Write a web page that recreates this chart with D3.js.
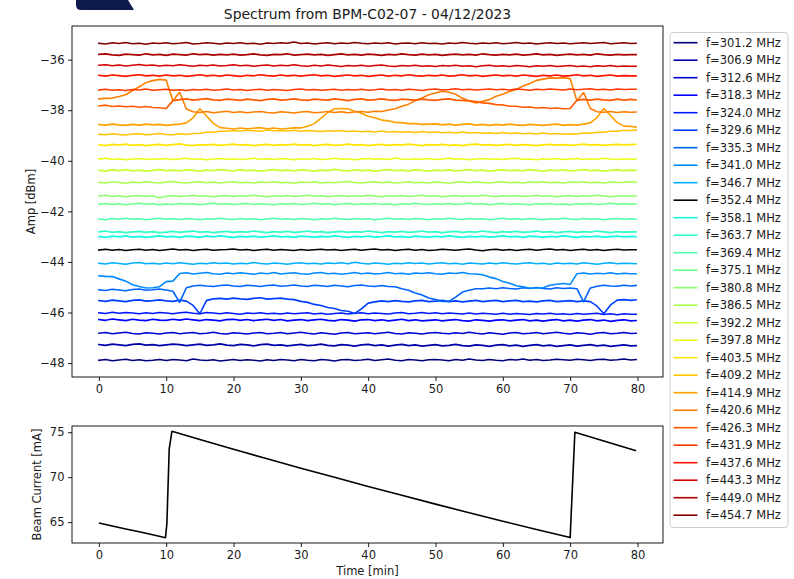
<!DOCTYPE html>
<html>
<head>
<meta charset="utf-8">
<script src="https://cdn.jsdelivr.net/npm/d3@7"></script>
<style>
  html, body { margin: 0; padding: 0; background: #fff; }
  svg { display: block; }
</style>
</head>
<body>
<svg id="chart" width="794" height="579"></svg>
<script>
// ---- time axis (minutes), shared by every spectrum trace ----
const minutes = [
  0,1,2,3,4,5,6,7,8,9,
  10,11,12,13,14,15,16,17,18,19,
  20,21,22,23,24,25,26,27,28,29,
  30,31,32,33,34,35,36,37,38,39,
  40,41,42,43,44,45,46,47,48,49,
  50,51,52,53,54,55,56,57,58,59,
  60,61,62,63,64,65,66,67,68,69,
  70,71,72,73,74,75,76,77,78,79,
  79.8
];

// ---- spectral line labels (MHz) ----
const frequencies = ["301.2","306.9","312.6","318.3","324.0","329.6","335.3","341.0","346.7","352.4",
  "358.1","363.7","369.4","375.1","380.8","386.5","392.2","397.8","403.5","409.2",
  "414.9","420.6","426.3","431.9","437.6","443.3","449.0","454.7"];

// ---- amplitude traces [dBm], one per spectral line ----
const amp301_2 = [-47.89,-47.86,-47.91,-47.88,-47.85,-47.90,-47.87,-47.91,-47.89,-47.86,
  -47.90,-47.86,-47.88,-47.91,-47.84,-47.88,-47.90,-47.87,-47.92,-47.89,
  -47.86,-47.90,-47.87,-47.89,-47.92,-47.87,-47.90,-47.86,-47.88,-47.91,
  -47.86,-47.89,-47.91,-47.86,-47.88,-47.92,-47.87,-47.86,-47.90,-47.88,
  -47.85,-47.90,-47.87,-47.84,-47.89,-47.91,-47.86,-47.88,-47.91,-47.87,
  -47.86,-47.88,-47.91,-47.86,-47.89,-47.84,-47.88,-47.90,-47.86,-47.89,
  -47.91,-47.86,-47.88,-47.84,-47.89,-47.86,-47.90,-47.88,-47.85,-47.87,
  -47.89,-47.85,-47.87,-47.90,-47.86,-47.85,-47.89,-47.87,-47.84,-47.88,
  -47.86];
const amp306_9 = [-47.27,-47.30,-47.25,-47.28,-47.31,-47.26,-47.24,-47.29,-47.27,-47.31,
  -47.28,-47.25,-47.27,-47.31,-47.28,-47.25,-47.30,-47.28,-47.24,-47.29,
  -47.31,-47.26,-47.28,-47.32,-47.27,-47.25,-47.30,-47.28,-47.32,-47.29,
  -47.26,-47.31,-47.29,-47.25,-47.30,-47.32,-47.27,-47.29,-47.33,-47.28,
  -47.26,-47.31,-47.28,-47.33,-47.29,-47.26,-47.31,-47.28,-47.33,-47.30,
  -47.27,-47.32,-47.30,-47.26,-47.31,-47.33,-47.28,-47.30,-47.34,-47.29,
  -47.27,-47.32,-47.29,-47.34,-47.30,-47.27,-47.32,-47.29,-47.34,-47.31,
  -47.28,-47.33,-47.30,-47.27,-47.32,-47.29,-47.34,-47.31,-47.28,-47.32,
  -47.31];
const amp312_6 = [-46.82,-46.79,-46.84,-46.81,-46.78,-46.83,-46.85,-46.80,-46.82,-46.85,
  -46.81,-46.79,-46.84,-46.81,-46.79,-46.84,-46.82,-46.78,-46.83,-46.85,
  -46.80,-46.82,-46.85,-46.81,-46.79,-46.84,-46.82,-46.79,-46.84,-46.81,
  -46.78,-46.82,-46.85,-46.80,-46.83,-46.86,-46.81,-46.79,-46.84,-46.82,
  -46.80,-46.84,-46.81,-46.78,-46.83,-46.85,-46.80,-46.82,-46.85,-46.81,
  -46.79,-46.82,-46.84,-46.80,-46.83,-46.78,-46.82,-46.85,-46.80,-46.83,
  -46.86,-46.81,-46.79,-46.84,-46.82,-46.79,-46.84,-46.81,-46.78,-46.82,
  -46.85,-46.80,-46.82,-46.86,-46.81,-46.79,-46.84,-46.82,-46.79,-46.83,
  -46.82];
const amp318_3 = [-46.28,-46.31,-46.26,-46.29,-46.32,-46.27,-46.30,-46.32,-46.27,-46.30,
  -46.31,-46.27,-46.30,-46.26,-46.29,-46.32,-46.28,-46.30,-46.33,-46.28,
  -46.27,-46.31,-46.28,-46.32,-46.29,-46.27,-46.31,-46.28,-46.33,-46.30,
  -46.28,-46.32,-46.29,-46.27,-46.31,-46.33,-46.28,-46.30,-46.34,-46.29,
  -46.28,-46.32,-46.29,-46.33,-46.30,-46.27,-46.32,-46.29,-46.33,-46.31,
  -46.29,-46.33,-46.30,-46.28,-46.32,-46.34,-46.29,-46.31,-46.34,-46.30,
  -46.29,-46.33,-46.30,-46.28,-46.33,-46.30,-46.34,-46.30,-46.28,-46.33,
  -46.30,-46.34,-46.30,-46.28,-46.33,-46.30,-46.35,-46.31,-46.29,-46.33,
  -46.32];
const amp324_0 = [-46.01,-46.04,-45.99,-46.03,-46.00,-46.02,-46.05,-46.01,-46.04,-46.00,
  -46.02,-46.05,-46.01,-45.99,-46.03,-46.05,-46.00,-46.02,-46.05,-46.01,
  -46.04,-46.07,-46.02,-46.04,-46.01,-46.05,-46.03,-46.06,-46.02,-46.05,
  -46.03,-46.01,-46.06,-46.03,-46.07,-46.04,-46.02,-46.06,-46.03,-46.01,
  -46.05,-46.02,-46.04,-46.06,-46.02,-46.00,-46.05,-46.03,-46.00,-46.04,
  -46.01,-46.05,-46.02,-46.04,-46.06,-46.02,-46.06,-46.03,-46.05,-46.07,
  -46.03,-46.07,-46.04,-46.06,-46.08,-46.04,-46.06,-46.03,-46.07,-46.05,
  -46.08,-46.04,-46.07,-46.05,-46.03,-46.08,-46.05,-46.09,-46.05,-46.07,
  -46.07];
const amp329_6 = [-45.53,-45.56,-45.51,-45.54,-45.57,-45.52,-45.50,-45.55,-45.53,-45.50,
  -45.54,-45.56,-45.51,-45.55,-45.72,-46.05,-45.52,-45.46,-45.44,-45.47,
  -45.43,-45.46,-45.48,-45.44,-45.42,-45.47,-45.45,-45.43,-45.47,-45.49,
  -45.56,-45.60,-45.68,-45.72,-45.80,-45.84,-45.92,-45.95,-46.04,-45.86,
  -45.63,-45.58,-45.54,-45.57,-45.53,-45.56,-45.58,-45.54,-45.52,-45.57,
  -45.55,-45.52,-45.57,-45.54,-45.58,-45.55,-45.52,-45.57,-45.54,-45.52,
  -45.57,-45.54,-45.52,-45.57,-45.55,-45.58,-45.54,-45.52,-45.57,-45.55,
  -45.53,-45.57,-45.54,-45.57,-45.75,-46.05,-45.70,-45.51,-45.49,-45.52,
  -45.50];
const amp335_3 = [-45.10,-45.13,-45.08,-45.11,-45.14,-45.09,-45.07,-45.12,-45.10,-45.07,
  -45.11,-45.16,-45.60,-45.02,-44.95,-44.92,-44.95,-44.97,-44.93,-44.91,
  -44.95,-44.97,-44.92,-44.94,-44.97,-44.93,-44.91,-44.96,-44.94,-44.91,
  -44.95,-44.97,-44.92,-44.94,-44.97,-44.92,-44.95,-44.98,-44.93,-44.91,
  -44.95,-44.97,-44.93,-44.97,-44.98,-45.06,-45.12,-45.23,-45.31,-45.43,
  -45.49,-45.56,-45.56,-45.39,-45.19,-45.12,-45.06,-45.06,-45.03,-45.06,
  -45.02,-45.05,-45.07,-45.02,-45.05,-45.01,-45.05,-45.07,-45.02,-45.05,
  -45.03,-45.06,-45.58,-45.03,-44.96,-44.92,-44.95,-44.96,-44.92,-44.95,
  -44.93];
const amp341_0 = [-44.55,-44.57,-44.58,-44.67,-44.76,-44.90,-44.97,-45.03,-45.02,-44.98,
  -44.78,-44.76,-44.46,-44.43,-44.48,-44.45,-44.42,-44.47,-44.49,-44.44,
  -44.47,-44.43,-44.46,-44.49,-44.44,-44.47,-44.42,-44.48,-44.45,-44.43,
  -44.47,-44.49,-44.44,-44.42,-44.47,-44.45,-44.49,-44.46,-44.42,-44.47,
  -44.44,-44.48,-44.46,-44.42,-44.47,-44.45,-44.49,-44.44,-44.46,-44.43,
  -44.47,-44.49,-44.44,-44.46,-44.42,-44.47,-44.48,-44.51,-44.60,-44.66,
  -44.77,-44.84,-44.94,-44.98,-45.04,-45.03,-45.02,-44.92,-44.88,-44.85,
  -44.89,-44.47,-44.44,-44.48,-44.45,-44.47,-44.43,-44.48,-44.45,-44.47,
  -44.47];
const amp346_7 = [-44.05,-44.08,-44.03,-44.06,-44.09,-44.04,-44.02,-44.07,-44.05,-44.08,
  -44.04,-44.07,-44.03,-44.06,-44.09,-44.05,-44.07,-44.03,-44.06,-44.04,
  -44.08,-44.05,-44.07,-44.02,-44.06,-44.08,-44.04,-44.06,-44.09,-44.05,
  -44.03,-44.07,-44.05,-44.08,-44.04,-44.06,-44.03,-44.07,-44.01,-44.05,
  -44.08,-44.04,-44.06,-44.09,-44.05,-44.07,-44.03,-44.06,-44.04,-44.08,
  -44.05,-44.03,-44.07,-44.05,-44.09,-44.04,-44.06,-44.08,-44.04,-44.07,
  -44.03,-44.06,-44.08,-44.05,-44.03,-44.07,-44.05,-44.09,-44.04,-44.07,
  -44.05,-44.08,-44.03,-44.06,-44.09,-44.05,-44.03,-44.07,-44.05,-44.06,
  -44.07];
const amp352_4 = [-43.53,-43.50,-43.54,-43.51,-43.55,-43.52,-43.50,-43.54,-43.51,-43.55,
  -43.52,-43.49,-43.53,-43.51,-43.55,-43.52,-43.50,-43.54,-43.52,-43.51,
  -43.49,-43.53,-43.51,-43.55,-43.52,-43.50,-43.54,-43.51,-43.53,-43.55,
  -43.51,-43.54,-43.52,-43.50,-43.53,-43.51,-43.55,-43.52,-43.50,-43.54,
  -43.51,-43.49,-43.53,-43.51,-43.55,-43.52,-43.50,-43.54,-43.51,-43.55,
  -43.53,-43.50,-43.52,-43.54,-43.51,-43.49,-43.53,-43.56,-43.52,-43.50,
  -43.54,-43.51,-43.55,-43.52,-43.50,-43.54,-43.51,-43.49,-43.53,-43.51,
  -43.55,-43.52,-43.50,-43.54,-43.51,-43.55,-43.52,-43.50,-43.53,-43.52,
  -43.52];
const amp358_1 = [-43.00,-43.03,-42.98,-43.01,-42.97,-43.02,-42.99,-43.03,-43.00,-42.97,
  -43.01,-42.99,-43.03,-42.98,-43.00,-43.02,-42.98,-43.01,-42.97,-43.00,
  -43.03,-42.99,-43.01,-42.98,-43.02,-43.00,-42.97,-43.01,-42.99,-43.03,
  -42.98,-43.00,-43.02,-42.99,-43.01,-42.97,-43.00,-43.03,-42.99,-43.01,
  -42.98,-43.02,-43.00,-42.97,-43.01,-42.99,-43.03,-42.98,-43.00,-43.02,
  -42.99,-43.01,-42.97,-43.00,-43.03,-42.99,-43.01,-42.98,-43.02,-43.00,
  -42.97,-43.01,-42.99,-43.03,-42.98,-43.00,-43.02,-42.99,-43.01,-42.97,
  -43.00,-43.03,-42.99,-43.01,-42.98,-43.02,-43.00,-42.98,-43.01,-42.99,
  -43.01];
const amp363_7 = [-42.81,-42.78,-42.83,-42.80,-42.84,-42.81,-42.79,-42.83,-42.80,-42.84,
  -42.82,-42.79,-42.83,-42.80,-42.78,-42.82,-42.80,-42.84,-42.81,-42.79,
  -42.83,-42.80,-42.82,-42.78,-42.81,-42.84,-42.80,-42.82,-42.79,-42.83,
  -42.81,-42.78,-42.82,-42.80,-42.84,-42.81,-42.79,-42.83,-42.80,-42.82,
  -42.78,-42.81,-42.84,-42.80,-42.82,-42.79,-42.83,-42.81,-42.78,-42.82,
  -42.80,-42.84,-42.81,-42.79,-42.83,-42.80,-42.82,-42.78,-42.81,-42.84,
  -42.80,-42.82,-42.79,-42.83,-42.81,-42.78,-42.82,-42.80,-42.84,-42.81,
  -42.79,-42.83,-42.80,-42.82,-42.78,-42.81,-42.84,-42.80,-42.82,-42.81,
  -42.81];
const amp369_4 = [-42.30,-42.33,-42.28,-42.31,-42.27,-42.31,-42.29,-42.33,-42.30,-42.27,
  -42.31,-42.29,-42.32,-42.28,-42.30,-42.33,-42.29,-42.31,-42.27,-42.30,
  -42.32,-42.28,-42.31,-42.29,-42.33,-42.30,-42.27,-42.31,-42.29,-42.32,
  -42.28,-42.30,-42.33,-42.29,-42.31,-42.27,-42.30,-42.32,-42.28,-42.31,
  -42.29,-42.33,-42.30,-42.27,-42.31,-42.29,-42.32,-42.28,-42.30,-42.33,
  -42.29,-42.31,-42.27,-42.30,-42.32,-42.28,-42.31,-42.29,-42.33,-42.30,
  -42.27,-42.31,-42.29,-42.32,-42.28,-42.30,-42.33,-42.29,-42.31,-42.27,
  -42.30,-42.32,-42.28,-42.31,-42.29,-42.33,-42.30,-42.28,-42.31,-42.29,
  -42.31];
const amp375_1 = [-41.72,-41.69,-41.73,-41.70,-41.74,-41.71,-41.68,-41.72,-41.70,-41.74,
  -41.71,-41.73,-41.69,-41.72,-41.70,-41.74,-41.71,-41.68,-41.72,-41.70,
  -41.73,-41.71,-41.69,-41.73,-41.70,-41.72,-41.74,-41.70,-41.72,-41.69,
  -41.73,-41.71,-41.68,-41.72,-41.70,-41.74,-41.71,-41.69,-41.73,-41.70,
  -41.72,-41.69,-41.73,-41.71,-41.74,-41.70,-41.72,-41.68,-41.71,-41.73,
  -41.70,-41.72,-41.69,-41.73,-41.71,-41.68,-41.72,-41.70,-41.74,-41.71,
  -41.69,-41.73,-41.70,-41.72,-41.74,-41.70,-41.72,-41.69,-41.73,-41.71,
  -41.74,-41.70,-41.72,-41.69,-41.73,-41.71,-41.68,-41.72,-41.70,-41.72,
  -41.71];
const amp380_8 = [-41.39,-41.36,-41.41,-41.38,-41.42,-41.39,-41.37,-41.41,-41.38,-41.46,
  -41.40,-41.37,-41.41,-41.39,-41.36,-41.40,-41.38,-41.42,-41.39,-41.37,
  -41.41,-41.38,-41.40,-41.36,-41.39,-41.42,-41.38,-41.40,-41.37,-41.41,
  -41.39,-41.36,-41.40,-41.38,-41.42,-41.39,-41.37,-41.41,-41.38,-41.40,
  -41.36,-41.39,-41.42,-41.38,-41.40,-41.37,-41.41,-41.39,-41.36,-41.40,
  -41.38,-41.42,-41.39,-41.37,-41.41,-41.38,-41.40,-41.36,-41.39,-41.42,
  -41.38,-41.40,-41.37,-41.41,-41.39,-41.36,-41.40,-41.38,-41.42,-41.39,
  -41.37,-41.41,-41.38,-41.40,-41.36,-41.39,-41.42,-41.38,-41.40,-41.39,
  -41.39];
const amp386_5 = [-40.85,-40.88,-40.83,-40.86,-40.89,-40.84,-40.87,-40.83,-40.86,-40.88,
  -40.84,-40.82,-40.86,-40.88,-40.85,-40.83,-40.87,-40.84,-40.88,-40.85,
  -40.83,-40.87,-40.85,-40.88,-40.84,-40.86,-40.83,-40.87,-40.85,-40.89,
  -40.84,-40.86,-40.83,-40.88,-40.85,-40.87,-40.84,-40.82,-40.86,-40.88,
  -40.85,-40.83,-40.87,-40.84,-40.88,-40.86,-40.83,-40.87,-40.85,-40.88,
  -40.84,-40.86,-40.89,-40.85,-40.83,-40.87,-40.84,-40.86,-40.88,-40.85,
  -40.83,-40.87,-40.85,-40.88,-40.84,-40.86,-40.83,-40.87,-40.85,-40.88,
  -40.84,-40.86,-40.83,-40.87,-40.85,-40.88,-40.84,-40.86,-40.85,-40.83,
  -40.85];
const amp392_2 = [-40.38,-40.41,-40.36,-40.39,-40.35,-40.40,-40.37,-40.41,-40.38,-40.35,
  -40.39,-40.37,-40.40,-40.36,-40.38,-40.41,-40.37,-40.39,-40.35,-40.38,
  -40.40,-40.36,-40.39,-40.37,-40.41,-40.38,-40.35,-40.39,-40.37,-40.40,
  -40.36,-40.38,-40.41,-40.37,-40.39,-40.34,-40.38,-40.40,-40.36,-40.39,
  -40.37,-40.41,-40.38,-40.35,-40.39,-40.37,-40.40,-40.36,-40.38,-40.41,
  -40.37,-40.39,-40.36,-40.40,-40.38,-40.35,-40.39,-40.37,-40.41,-40.38,
  -40.36,-40.39,-40.37,-40.40,-40.35,-40.38,-40.41,-40.37,-40.39,-40.36,
  -40.40,-40.38,-40.35,-40.39,-40.37,-40.41,-40.38,-40.36,-40.39,-40.37,
  -40.38];
const amp397_8 = [-39.93,-39.90,-39.95,-39.92,-39.96,-39.93,-39.91,-39.95,-39.92,-39.94,
  -39.91,-39.95,-39.93,-39.90,-39.94,-39.92,-39.96,-39.93,-39.91,-39.94,
  -39.92,-39.95,-39.93,-39.90,-39.94,-39.92,-39.95,-39.91,-39.93,-39.96,
  -39.92,-39.94,-39.91,-39.95,-39.93,-39.90,-39.94,-39.92,-39.96,-39.93,
  -39.91,-39.94,-39.92,-39.95,-39.89,-39.93,-39.95,-39.92,-39.94,-39.91,
  -39.95,-39.93,-39.90,-39.94,-39.92,-39.96,-39.93,-39.91,-39.94,-39.92,
  -39.95,-39.92,-39.90,-39.94,-39.93,-39.96,-39.92,-39.94,-39.91,-39.95,
  -39.93,-39.91,-39.95,-39.92,-39.94,-39.90,-39.93,-39.95,-39.92,-39.94,
  -39.93];
const amp403_5 = [-39.37,-39.40,-39.35,-39.38,-39.34,-39.39,-39.36,-39.40,-39.37,-39.35,
  -39.39,-39.36,-39.33,-39.38,-39.40,-39.36,-39.38,-39.35,-39.39,-39.37,
  -39.34,-39.38,-39.36,-39.40,-39.37,-39.35,-39.39,-39.36,-39.38,-39.34,
  -39.38,-39.36,-39.40,-39.37,-39.35,-39.39,-39.37,-39.34,-39.38,-39.36,
  -39.40,-39.37,-39.35,-39.39,-39.36,-39.38,-39.34,-39.37,-39.40,-39.36,
  -39.38,-39.35,-39.39,-39.37,-39.40,-39.36,-39.34,-39.38,-39.36,-39.39,
  -39.37,-39.35,-39.39,-39.36,-39.38,-39.40,-39.37,-39.35,-39.38,-39.36,
  -39.39,-39.37,-39.34,-39.38,-39.36,-39.39,-39.37,-39.35,-39.37,-39.36,
  -39.35];
const amp409_2 = [-38.95,-38.97,-38.93,-38.96,-38.98,-38.94,-38.93,-38.97,-38.95,-38.92,
  -38.96,-38.97,-38.93,-38.96,-38.92,-38.91,-38.87,-38.87,-38.83,-38.83,
  -38.80,-38.82,-38.79,-38.81,-38.83,-38.78,-38.81,-38.80,-38.82,-38.79,
  -38.83,-38.80,-38.82,-38.84,-38.81,-38.83,-38.80,-38.84,-38.82,-38.85,
  -38.83,-38.86,-38.82,-38.86,-38.84,-38.87,-38.85,-38.88,-38.84,-38.88,
  -38.86,-38.89,-38.87,-38.90,-38.86,-38.90,-38.88,-38.91,-38.89,-38.92,
  -38.88,-38.92,-38.90,-38.93,-38.91,-38.94,-38.90,-38.94,-38.92,-38.95,
  -38.93,-38.94,-38.90,-38.91,-38.87,-38.87,-38.83,-38.83,-38.79,-38.80,
  -38.78];
const amp414_9 = [-38.57,-38.59,-38.55,-38.58,-38.60,-38.56,-38.59,-38.55,-38.58,-38.56,
  -38.60,-38.57,-38.55,-38.50,-38.30,-37.94,-38.23,-38.52,-38.69,-38.71,
  -38.74,-38.70,-38.73,-38.71,-38.69,-38.73,-38.70,-38.74,-38.72,-38.70,
  -38.70,-38.63,-38.53,-38.31,-38.09,-37.94,-37.93,-37.94,-38.04,-38.12,
  -38.24,-38.30,-38.39,-38.42,-38.48,-38.49,-38.53,-38.53,-38.56,-38.55,
  -38.54,-38.58,-38.55,-38.59,-38.56,-38.54,-38.59,-38.56,-38.60,-38.56,
  -38.59,-38.55,-38.58,-38.60,-38.56,-38.58,-38.60,-38.57,-38.55,-38.60,
  -38.57,-38.59,-38.55,-38.50,-38.28,-37.93,-38.21,-38.49,-38.63,-38.64,
  -38.67];
const amp420_6 = [-37.55,-37.53,-37.52,-37.46,-37.39,-37.22,-37.07,-36.91,-36.83,-36.78,
  -36.81,-37.63,-37.29,-37.95,-38.06,-38.09,-38.05,-38.10,-38.07,-38.04,
  -38.09,-38.06,-38.10,-38.07,-38.05,-38.09,-38.11,-38.06,-38.08,-38.11,
  -38.07,-38.05,-38.10,-38.08,-38.05,-38.09,-38.06,-38.10,-38.07,-38.05,
  -38.08,-38.04,-38.05,-37.99,-37.94,-37.84,-37.76,-37.62,-37.52,-37.39,
  -37.32,-37.25,-37.29,-37.37,-37.53,-37.63,-37.71,-37.65,-37.58,-37.45,
  -37.37,-37.26,-37.18,-37.04,-36.94,-36.82,-36.77,-36.72,-36.73,-36.71,
  -36.75,-37.63,-37.30,-37.93,-38.06,-38.08,-38.05,-38.09,-38.06,-38.08,
  -38.07];
const amp426_3 = [-37.83,-37.80,-37.85,-37.83,-37.86,-37.84,-37.88,-37.85,-37.89,-37.90,
  -37.93,-37.62,-37.58,-37.55,-37.60,-37.57,-37.54,-37.59,-37.61,-37.56,
  -37.58,-37.61,-37.56,-37.59,-37.62,-37.57,-37.55,-37.60,-37.58,-37.55,
  -37.59,-37.61,-37.56,-37.58,-37.60,-37.55,-37.58,-37.62,-37.57,-37.55,
  -37.60,-37.58,-37.55,-37.59,-37.61,-37.56,-37.58,-37.60,-37.56,-37.59,
  -37.61,-37.57,-37.55,-37.60,-37.61,-37.63,-37.66,-37.71,-37.73,-37.78,
  -37.79,-37.84,-37.84,-37.88,-37.87,-37.91,-37.89,-37.93,-37.91,-37.94,
  -37.93,-37.61,-37.57,-37.60,-37.56,-37.59,-37.61,-37.56,-37.60,-37.57,
  -37.59];
const amp431_9 = [-37.20,-37.17,-37.21,-37.19,-37.22,-37.18,-37.20,-37.16,-37.21,-37.19,
  -37.17,-37.21,-37.19,-37.22,-37.18,-37.20,-37.17,-37.21,-37.19,-37.16,
  -37.20,-37.18,-37.22,-37.19,-37.17,-37.21,-37.18,-37.20,-37.22,-37.18,
  -37.16,-37.20,-37.18,-37.21,-37.19,-37.17,-37.21,-37.18,-37.20,-37.17,
  -37.21,-37.19,-37.16,-37.20,-37.18,-37.21,-37.17,-37.19,-37.22,-37.18,
  -37.16,-37.20,-37.18,-37.15,-37.19,-37.17,-37.20,-37.18,-37.16,-37.19,
  -37.17,-37.20,-37.16,-37.18,-37.21,-37.17,-37.19,-37.16,-37.18,-37.20,
  -37.16,-37.19,-37.17,-37.15,-37.19,-37.17,-37.20,-37.16,-37.18,-37.17,
  -37.17];
const amp437_6 = [-36.62,-36.65,-36.61,-36.63,-36.66,-36.62,-36.60,-36.64,-36.62,-36.65,
  -36.61,-36.64,-36.62,-36.66,-36.63,-36.60,-36.64,-36.62,-36.65,-36.61,
  -36.63,-36.66,-36.62,-36.64,-36.60,-36.63,-36.65,-36.61,-36.64,-36.62,
  -36.65,-36.62,-36.60,-36.64,-36.62,-36.66,-36.63,-36.61,-36.64,-36.62,
  -36.66,-36.63,-36.61,-36.65,-36.62,-36.64,-36.60,-36.63,-36.65,-36.62,
  -36.64,-36.61,-36.65,-36.63,-36.60,-36.64,-36.62,-36.66,-36.63,-36.61,
  -36.64,-36.62,-36.65,-36.61,-36.63,-36.66,-36.62,-36.64,-36.61,-36.65,
  -36.63,-36.60,-36.64,-36.62,-36.66,-36.63,-36.61,-36.65,-36.63,-36.64,
  -36.64];
const amp443_3 = [-36.22,-36.20,-36.24,-36.21,-36.25,-36.22,-36.19,-36.23,-36.21,-36.25,
  -36.22,-36.24,-36.20,-36.23,-36.26,-36.22,-36.24,-36.21,-36.25,-36.23,
  -36.20,-36.24,-36.22,-36.26,-36.23,-36.21,-36.25,-36.22,-36.24,-36.20,
  -36.24,-36.26,-36.22,-36.25,-36.21,-36.24,-36.27,-36.23,-36.25,-36.22,
  -36.26,-36.23,-36.21,-36.25,-36.27,-36.23,-36.25,-36.22,-36.26,-36.24,
  -36.27,-36.23,-36.25,-36.22,-36.26,-36.24,-36.28,-36.24,-36.22,-36.26,
  -36.24,-36.27,-36.23,-36.25,-36.28,-36.24,-36.26,-36.23,-36.27,-36.25,
  -36.23,-36.27,-36.25,-36.28,-36.24,-36.26,-36.23,-36.27,-36.25,-36.26,
  -36.26];
const amp449_0 = [-35.79,-35.77,-35.81,-35.83,-35.78,-35.80,-35.82,-35.77,-35.81,-35.79,
  -35.83,-35.78,-35.80,-35.82,-35.77,-35.80,-35.78,-35.82,-35.79,-35.81,
  -35.78,-35.82,-35.80,-35.77,-35.81,-35.83,-35.79,-35.80,-35.77,-35.82,
  -35.80,-35.78,-35.81,-35.79,-35.83,-35.80,-35.77,-35.81,-35.79,-35.82,
  -35.78,-35.80,-35.83,-35.79,-35.81,-35.77,-35.80,-35.82,-35.78,-35.81,
  -35.79,-35.83,-35.80,-35.78,-35.81,-35.79,-35.82,-35.77,-35.80,-35.82,
  -35.79,-35.81,-35.78,-35.82,-35.80,-35.77,-35.81,-35.79,-35.83,-35.80,
  -35.78,-35.81,-35.79,-35.82,-35.77,-35.80,-35.82,-35.79,-35.81,-35.80,
  -35.80];
const amp454_7 = [-35.35,-35.38,-35.33,-35.36,-35.32,-35.37,-35.35,-35.39,-35.34,-35.36,
  -35.33,-35.37,-35.35,-35.32,-35.38,-35.36,-35.33,-35.35,-35.38,-35.34,
  -35.36,-35.33,-35.37,-35.35,-35.39,-35.34,-35.36,-35.33,-35.35,-35.30,
  -35.36,-35.34,-35.38,-35.35,-35.33,-35.37,-35.34,-35.36,-35.32,-35.35,
  -35.37,-35.34,-35.36,-35.33,-35.38,-35.35,-35.34,-35.37,-35.33,-35.36,
  -35.35,-35.38,-35.34,-35.36,-35.32,-35.35,-35.37,-35.34,-35.36,-35.33,
  -35.37,-35.35,-35.32,-35.36,-35.34,-35.38,-35.35,-35.33,-35.36,-35.34,
  -35.37,-35.35,-35.33,-35.36,-35.34,-35.32,-35.37,-35.35,-35.33,-35.36,
  -35.35];

const spectrumSeries = [amp301_2, amp306_9, amp312_6, amp318_3, amp324_0, amp329_6, amp335_3,
  amp341_0, amp346_7, amp352_4, amp358_1, amp363_7, amp369_4, amp375_1, amp380_8, amp386_5,
  amp392_2, amp397_8, amp403_5, amp409_2, amp414_9, amp420_6, amp426_3, amp431_9, amp437_6,
  amp443_3, amp449_0, amp454_7];

// ---- stored beam current [mA] ----
const currentMinutes = [0, 2, 4, 6, 8, 9.9, 10.1, 10.45, 10.85, 15, 20, 25, 30, 35, 40, 45,
  50, 55, 60, 65, 70, 70.7, 75, 79.8];
const beamCurrent = [64.9, 64.57, 64.24, 63.92, 63.59, 63.27, 64.8, 73.15, 75.1, 74.18, 73.1,
  72.05, 71.0, 69.98, 68.97, 67.98, 67.0, 66.04, 65.1, 64.17, 63.28, 75.0, 74.03, 72.95];

// ---- tick values ----
const timeTicks = [0, 10, 20, 30, 40, 50, 60, 70, 80];
const ampTicks = [-48, -46, -44, -42, -40, -38, -36];
const currentTicks = [65, 70, 75];

// ---- styling ----
const FONT = "'DejaVu Sans', 'Liberation Sans', sans-serif";
const TEXT = "#1a1a1a";
const LINE_W = 1.6;
const upperBox = { left: 72, right: 663, top: 26, bottom: 377 };
const lowerBox = { left: 72, right: 663, top: 426, bottom: 543 };

// matplotlib "jet" colormap
function jet(v) {
  const seg = pts => {
    for (let i = 1; i < pts.length; i++) {
      if (v <= pts[i][0]) {
        const [x0, y0] = pts[i - 1], [x1, y1] = pts[i];
        return y0 + (y1 - y0) * (v - x0) / (x1 - x0);
      }
    }
    return pts[pts.length - 1][1];
  };
  const r = seg([[0, 0], [0.35, 0], [0.66, 1], [0.89, 1], [1, 0.5]]);
  const g = seg([[0, 0], [0.125, 0], [0.375, 1], [0.64, 1], [0.91, 0], [1, 0]]);
  const b = seg([[0, 0.5], [0.11, 1], [0.34, 1], [0.65, 0], [1, 0]]);
  return d3.rgb(r * 255, g * 255, b * 255).formatHex();
}
const nLines = frequencies.length;
const colours = frequencies.map((f, i) => f === "352.4" ? "#000000" : jet(i / (nLines - 1)));

const svg = d3.select("#chart");
svg.append("rect").attr("width", 794).attr("height", 579).attr("fill", "#fff");

// header emblem fragment
svg.append("path")
  .attr("d", "M76,0 L128,0 L134,10 L81,10 Q76,10 76,5 Z")
  .attr("fill", "#0d1b4e");

// ---- scales ----
const xExt = d3.extent(minutes);
const xPad = (xExt[1] - xExt[0]) * 0.05;
const x = d3.scaleLinear().domain([xExt[0] - xPad, xExt[1] + xPad]).range([upperBox.left, upperBox.right]);
const xb = x.copy().range([lowerBox.left, lowerBox.right]);

const allAmp = spectrumSeries.flat();
const aExt = d3.extent(allAmp);
const aPad = (aExt[1] - aExt[0]) * 0.05;
const y = d3.scaleLinear().domain([aExt[0] - aPad, aExt[1] + aPad]).range([upperBox.bottom, upperBox.top]);

const cExt = d3.extent(beamCurrent);
const cPad = (cExt[1] - cExt[0]) * 0.05;
const yc = d3.scaleLinear().domain([cExt[0] - cPad, cExt[1] + cPad]).range([lowerBox.bottom, lowerBox.top]);

// ---- clip paths ----
const defs = svg.append("defs");
defs.append("clipPath").attr("id", "clipUpper").append("rect")
  .attr("x", upperBox.left).attr("y", upperBox.top)
  .attr("width", upperBox.right - upperBox.left).attr("height", upperBox.bottom - upperBox.top);
defs.append("clipPath").attr("id", "clipLower").append("rect")
  .attr("x", lowerBox.left).attr("y", lowerBox.top)
  .attr("width", lowerBox.right - lowerBox.left).attr("height", lowerBox.bottom - lowerBox.top);

// ---- spectrum traces ----
const ampLine = d3.line().x((d, i) => x(minutes[i])).y(d => y(d));
svg.append("g").attr("clip-path", "url(#clipUpper)")
  .selectAll("path").data(spectrumSeries).join("path")
  .attr("d", ampLine)
  .attr("fill", "none")
  .attr("stroke", (d, i) => colours[i])
  .attr("stroke-width", LINE_W)
  .attr("stroke-linejoin", "round")
  .attr("stroke-linecap", "square");

// ---- beam current ----
const curLine = d3.line().x((d, i) => xb(currentMinutes[i])).y(d => yc(d));
svg.append("g").attr("clip-path", "url(#clipLower)")
  .append("path").datum(beamCurrent)
  .attr("d", curLine)
  .attr("fill", "none").attr("stroke", "#000").attr("stroke-width", LINE_W)
  .attr("stroke-linejoin", "round");

// ---- axes ----
function styleAxis(g) {
  g.select(".domain").remove();
  g.selectAll(".tick line").attr("stroke", "#000").attr("stroke-width", 0.9);
  g.selectAll(".tick text").attr("fill", TEXT).attr("font-family", FONT).attr("font-size", 11.5);
}
const fmt = d3.format("d");
svg.append("g").attr("transform", `translate(0,${upperBox.bottom})`)
  .call(d3.axisBottom(x).tickValues(timeTicks).tickFormat(fmt).tickSize(4).tickPadding(3.5).tickSizeOuter(0))
  .call(styleAxis);
svg.append("g").attr("transform", `translate(${upperBox.left},0)`)
  .call(d3.axisLeft(y).tickValues(ampTicks).tickFormat(fmt).tickSize(4).tickPadding(3.5).tickSizeOuter(0))
  .call(styleAxis);
svg.append("g").attr("transform", `translate(0,${lowerBox.bottom})`)
  .call(d3.axisBottom(xb).tickValues(timeTicks).tickFormat(fmt).tickSize(4).tickPadding(3.5).tickSizeOuter(0))
  .call(styleAxis);
svg.append("g").attr("transform", `translate(${lowerBox.left},0)`)
  .call(d3.axisLeft(yc).tickValues(currentTicks).tickFormat(fmt).tickSize(4).tickPadding(3.5).tickSizeOuter(0))
  .call(styleAxis);

// frames
[upperBox, lowerBox].forEach(p => {
  svg.append("rect")
    .attr("x", p.left).attr("y", p.top)
    .attr("width", p.right - p.left).attr("height", p.bottom - p.top)
    .attr("fill", "none").attr("stroke", "#000").attr("stroke-width", 0.9);
});

// ---- titles and labels ----
svg.append("text").attr("x", (upperBox.left + upperBox.right) / 2).attr("y", 19)
  .attr("text-anchor", "middle").attr("font-family", FONT).attr("font-size", 13.9).attr("fill", TEXT)
  .text("Spectrum from BPM-C02-07 - 04/12/2023");
svg.append("text").attr("transform", `translate(34.5,${(upperBox.top + upperBox.bottom) / 2}) rotate(-90)`)
  .attr("text-anchor", "middle").attr("font-family", FONT).attr("font-size", 11.5).attr("fill", TEXT)
  .text("Amp [dBm]");
svg.append("text").attr("transform", `translate(41,${(lowerBox.top + lowerBox.bottom) / 2}) rotate(-90)`)
  .attr("text-anchor", "middle").attr("font-family", FONT).attr("font-size", 11.5).attr("fill", TEXT)
  .text("Beam Current [mA]");
svg.append("text").attr("x", (lowerBox.left + lowerBox.right) / 2).attr("y", 575)
  .attr("text-anchor", "middle").attr("font-family", FONT).attr("font-size", 11.5).attr("fill", TEXT)
  .text("Time [min]");

// ---- legend ----
const legend = svg.append("g");
legend.append("rect")
  .attr("x", 670).attr("y", 32.5).attr("width", 118).attr("height", 495)
  .attr("rx", 3).attr("fill", "#fff").attr("fill-opacity", 0.8)
  .attr("stroke", "#cccccc").attr("stroke-width", 1);
const rowY = d3.scaleLinear().domain([0, nLines - 1]).range([42.7, 515.2]);
const rows = legend.selectAll("g.row").data(frequencies).join("g").attr("class", "row")
  .attr("transform", (d, i) => `translate(0,${rowY(i)})`);
rows.append("line").attr("x1", 673.5).attr("x2", 697.5).attr("y1", 0).attr("y2", 0)
  .attr("stroke", (d, i) => colours[i]).attr("stroke-width", LINE_W);
rows.append("text").attr("x", 706).attr("y", 0).attr("dy", "0.36em")
  .attr("font-family", FONT).attr("font-size", 11.5).attr("fill", TEXT)
  .text(d => `f=${d} MHz`);
</script>
</body>
</html>
